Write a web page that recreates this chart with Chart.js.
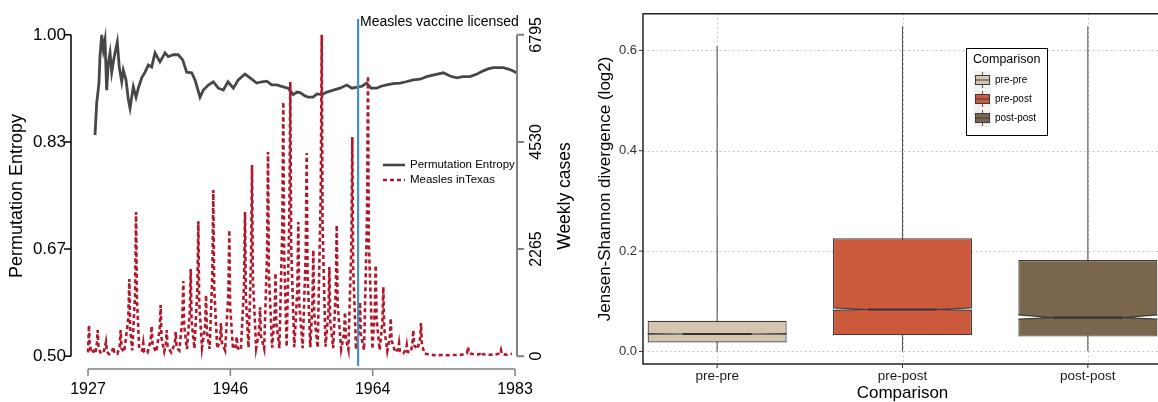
<!DOCTYPE html>
<html lang="en">
  <head>
    <meta charset="UTF-8" />
    <title>Measles in Texas: permutation entropy and Jensen-Shannon divergence</title>
    <script src="https://cdn.jsdelivr.net/npm/chart.js"></script>
    <style>
      html,
      body {
        margin: 0;
        padding: 0;
        background: #fff;
        overflow: hidden;
      }
      body {
        width: 1158px;
        height: 402px;
        position: relative;
      }
      #left {
        position: absolute;
        left: 0;
        top: 0;
        width: 580px;
        height: 402px;
      }
      #right {
        position: absolute;
        left: 580px;
        top: 0;
        width: 600px;
        height: 402px;
      }
    </style>
  </head>
  <body>
    <div id="left"><canvas id="entropyChart"></canvas></div>
    <div id="right"><canvas id="jsdChart"></canvas></div>

    <script>
      // ---- left panel: entropy vs weekly measles cases ----
      const entropySeries = [
        [1927.92, 0.844], [1928.14, 0.894], [1928.44, 0.925], [1928.57, 0.966], [1928.8, 1.0],
        [1929.01, 0.977], [1929.23, 0.992], [1929.45, 0.914], [1929.66, 0.956], [1929.89, 0.972],
        [1930.11, 0.942], [1930.41, 0.964], [1930.84, 0.989], [1931.1, 0.95], [1931.42, 0.927],
        [1931.63, 0.945], [1931.98, 0.93], [1932.29, 0.899], [1932.51, 0.886], [1932.73, 0.903],
        [1932.94, 0.919], [1933.3, 0.903], [1933.6, 0.917], [1934.04, 0.933], [1934.48, 0.942],
        [1934.91, 0.953], [1935.35, 0.95], [1935.79, 0.972], [1936.44, 0.958], [1937.1, 0.972],
        [1937.53, 0.966], [1938.19, 0.969], [1938.84, 0.969], [1939.42, 0.961], [1939.94, 0.942],
        [1940.6, 0.941], [1941.03, 0.93], [1941.69, 0.903], [1942.12, 0.914], [1942.78, 0.922],
        [1943.43, 0.927], [1944.09, 0.917], [1944.74, 0.914], [1945.36, 0.927], [1946.06, 0.917],
        [1946.71, 0.93], [1947.59, 0.939], [1948.25, 0.933], [1949.12, 0.925], [1949.82, 0.927],
        [1950.44, 0.928], [1951.09, 0.922], [1951.75, 0.922], [1952.61, 0.919], [1953.23, 0.917],
        [1953.92, 0.907], [1954.41, 0.911], [1954.8, 0.91], [1955.46, 0.905], [1955.89, 0.903],
        [1956.51, 0.903], [1957.03, 0.908], [1957.65, 0.907], [1958.34, 0.911], [1959.17, 0.914],
        [1960.05, 0.917], [1960.93, 0.922], [1961.62, 0.917], [1962.45, 0.919], [1962.93, 0.92],
        [1963.55, 0.925], [1964.11, 0.917], [1964.86, 0.917], [1965.43, 0.92], [1966.17, 0.922],
        [1967.0, 0.924], [1967.92, 0.925], [1968.7, 0.927], [1969.66, 0.93], [1970.54, 0.931],
        [1971.42, 0.935], [1972.51, 0.938], [1973.6, 0.941], [1974.48, 0.936], [1975.35, 0.933],
        [1976.18, 0.935], [1977.1, 0.935], [1978.02, 0.939], [1978.84, 0.944], [1979.46, 0.947],
        [1980.15, 0.949], [1980.77, 0.949], [1981.47, 0.949], [1982.34, 0.946], [1983.22, 0.941]
      ];

      const measlesSeries = [
        [1927.0, 80], [1927.07, 380], [1927.13, 656], [1927.22, 240], [1927.45, 70], [1927.72, 110], [1927.95, 50],
        [1928.17, 280], [1928.27, 550], [1928.38, 180], [1928.7, 50],
        [1929.1, 110], [1929.36, 303], [1929.48, 90], [1929.8, 40],
        [1930.15, 90], [1930.32, 197], [1930.45, 70], [1930.85, 50],
        [1931.15, 200], [1931.28, 550], [1931.4, 160], [1931.75, 90],
        [1932.28, 800], [1932.42, 1630], [1932.52, 600], [1932.8, 120],
        [1933.17, 1300], [1933.3, 3048], [1933.42, 1200], [1933.72, 150],
        [1934.12, 120], [1934.25, 275], [1934.38, 90], [1934.8, 70],
        [1935.22, 330], [1935.35, 635], [1935.47, 230], [1935.95, 90],
        [1936.4, 560], [1936.53, 1080], [1936.64, 380], [1937.0, 100],
        [1937.22, 260], [1937.32, 550], [1937.44, 200], [1937.9, 80],
        [1938.38, 260], [1938.5, 515], [1938.62, 180], [1938.98, 120],
        [1939.37, 780], [1939.5, 1590], [1939.61, 650], [1939.98, 150],
        [1940.35, 950], [1940.47, 1842], [1940.58, 760], [1940.95, 160],
        [1941.34, 1400], [1941.47, 2850], [1941.58, 1150], [1941.95, 180],
        [1942.36, 650], [1942.48, 1291], [1942.6, 500], [1942.95, 150],
        [1943.3, 1700], [1943.43, 3514], [1943.55, 1450], [1943.95, 160],
        [1944.32, 360], [1944.44, 699], [1944.56, 280], [1944.98, 120],
        [1945.4, 1300], [1945.53, 2667], [1945.64, 1050], [1946.02, 150],
        [1946.38, 220], [1946.5, 410], [1946.62, 170], [1947.05, 130],
        [1947.46, 1500], [1947.59, 3048], [1947.7, 1250], [1948.05, 180],
        [1948.38, 2000], [1948.51, 4043], [1948.62, 1650], [1949.05, 170],
        [1949.44, 520], [1949.56, 1037], [1949.68, 420], [1950.1, 160],
        [1950.48, 2150], [1950.61, 4318], [1950.72, 1750], [1951.15, 180],
        [1951.47, 880], [1951.59, 1757], [1951.7, 700], [1952.1, 170],
        [1952.48, 2700], [1952.61, 5377], [1952.72, 2200], [1953.05, 200],
        [1953.4, 2900], [1953.53, 5800], [1953.64, 2350], [1954.05, 190],
        [1954.45, 1400], [1954.58, 2837], [1954.69, 1150], [1955.15, 170],
        [1955.55, 2150], [1955.68, 4297], [1955.79, 1750], [1956.15, 190],
        [1956.43, 1100], [1956.55, 2244], [1956.66, 900], [1957.12, 180],
        [1957.52, 3400], [1957.65, 6795], [1957.76, 2800], [1958.15, 200],
        [1958.53, 950], [1958.65, 1884], [1958.76, 760], [1959.15, 170],
        [1959.5, 1400], [1959.62, 2773], [1959.73, 1120], [1960.2, 150],
        [1960.58, 470], [1960.7, 931], [1960.82, 380], [1961.15, 140],
        [1961.53, 2300], [1961.66, 4636], [1961.77, 1900], [1962.15, 140],
        [1962.55, 580], [1962.67, 1143], [1962.78, 460], [1963.2, 130],
        [1963.59, 2950], [1963.72, 5927], [1963.83, 2400], [1964.3, 150],
        [1964.61, 970], [1964.73, 1926], [1964.85, 780], [1965.25, 130],
        [1965.61, 740], [1965.73, 1461], [1965.84, 590], [1966.25, 110],
        [1966.58, 410], [1966.7, 804], [1966.82, 330], [1967.3, 80],
        [1967.68, 150], [1967.79, 275], [1967.9, 110], [1968.35, 60],
        [1968.69, 130], [1968.8, 233], [1968.91, 90], [1969.35, 90],
        [1969.55, 290], [1969.66, 550], [1969.77, 230], [1970.2, 150],
        [1970.56, 380], [1970.67, 699], [1970.78, 260], [1971.1, 60],
        [1971.8, 30], [1972.6, 20], [1973.4, 25], [1974.3, 20], [1975.2, 25], [1976.0, 30],
        [1976.7, 60], [1976.84, 190], [1976.95, 60], [1977.6, 40], [1978.2, 35],
        [1978.6, 60], [1978.67, 85], [1978.8, 40], [1979.6, 30], [1980.4, 35],
        [1981.05, 60], [1981.16, 127], [1981.28, 40], [1982.0, 30], [1982.6, 50]
      ];

      const yearTickValues = [1927, 1945.667, 1964.333, 1983];
      const yearTickLabels = ['1927', '1946', '1964', '1983'];
      const entropyTickValues = [0.5, 0.6667, 0.8333, 1.0];
      const entropyTickLabels = ['0.50', '0.67', '0.83', '1.00'];
      const caseTickValues = [0, 2265, 4530, 6795];
      const vaccineYear = 1962.42;
      const vaccineLabel = 'Measles vaccine licensed';

      // ---- right panel: JSD boxplots ----
      const compCategories = ['pre-pre', 'pre-post', 'post-post'];
      const boxMin = [0, 0, 0];
      const boxQ1 = [0.018, 0.0322, 0.0295];
      const boxNotchLow = [0.0338, 0.0816, 0.0642];
      const boxMedian = [0.0347, 0.0835, 0.0675];
      const boxNotchHigh = [0.0356, 0.0868, 0.0727];
      const boxQ3 = [0.0611, 0.2257, 0.182];
      const boxMax = [0.609, 0.648, 0.648];
      const jsdTickValues = [0, 0.2, 0.4, 0.6];

      const FONT = "'Liberation Sans', Arial, Helvetica, sans-serif";
      const boxColors = ['#d4c5b1', '#cb5a3c', '#79674d'];

      Chart.defaults.font.family = FONT;
      Chart.defaults.color = '#000';

      function rotatedText(ctx, text, x, y, font, color) {
        ctx.save();
        ctx.translate(x, y);
        ctx.rotate(-Math.PI / 2);
        ctx.font = font;
        ctx.fillStyle = color;
        ctx.textAlign = 'center';
        ctx.textBaseline = 'middle';
        ctx.fillText(text, 0, 0);
        ctx.restore();
      }

      const leftDecor = {
        id: 'leftDecor',
        afterDatasetsDraw(chart) {
          const { ctx, chartArea: a, scales } = chart;
          const vx = scales.x.getPixelForValue(vaccineYear);
          ctx.save();
          ctx.strokeStyle = '#4393c3';
          ctx.lineWidth = 2.2;
          ctx.beginPath();
          ctx.moveTo(vx, a.top - 3);
          ctx.lineTo(vx, a.bottom - 3);
          ctx.stroke();
          ctx.fillStyle = '#000';
          ctx.font = '14px ' + FONT;
          ctx.textBaseline = 'alphabetic';
          ctx.fillText(vaccineLabel, vx + 2, 26);
          ctx.restore();
        },
        afterDraw(chart) {
          const { ctx, chartArea: a } = chart;
          const { x, entropy, cases } = chart.scales;
          ctx.save();
          ctx.lineWidth = 1.5;

          // bottom axis, R style (first to last tick)
          ctx.strokeStyle = '#808080';
          ctx.beginPath();
          ctx.moveTo(x.getPixelForValue(yearTickValues[0]), a.bottom);
          ctx.lineTo(x.getPixelForValue(yearTickValues[yearTickValues.length - 1]), a.bottom);
          yearTickValues.forEach((v) => {
            const p = x.getPixelForValue(v);
            ctx.moveTo(p, a.bottom);
            ctx.lineTo(p, a.bottom + 7);
          });
          ctx.stroke();

          // left axis
          ctx.strokeStyle = '#000';
          ctx.beginPath();
          ctx.moveTo(a.left, entropy.getPixelForValue(entropyTickValues[0]));
          ctx.lineTo(a.left, entropy.getPixelForValue(entropyTickValues[entropyTickValues.length - 1]));
          entropyTickValues.forEach((v) => {
            const p = entropy.getPixelForValue(v);
            ctx.moveTo(a.left, p);
            ctx.lineTo(a.left - 7, p);
          });
          ctx.stroke();

          // right axis
          ctx.strokeStyle = '#808080';
          ctx.lineWidth = 2;
          ctx.beginPath();
          ctx.moveTo(a.right, cases.getPixelForValue(caseTickValues[0]));
          ctx.lineTo(a.right, cases.getPixelForValue(caseTickValues[caseTickValues.length - 1]));
          caseTickValues.forEach((v) => {
            const p = cases.getPixelForValue(v);
            ctx.moveTo(a.right, p);
            ctx.lineTo(a.right + 7, p);
          });
          ctx.stroke();
          caseTickValues.forEach((v) => {
            rotatedText(ctx, String(v), a.right + 20, cases.getPixelForValue(v), '16px ' + FONT, '#000');
          });

          // axis titles
          rotatedText(ctx, 'Permutation Entropy', 17, 196, '18px ' + FONT, '#000');
          rotatedText(ctx, 'Weekly cases', 565, 196, '17.5px ' + FONT, '#000');

          // legend
          ctx.lineWidth = 2.6;
          ctx.strokeStyle = '#474747';
          ctx.beginPath();
          ctx.moveTo(383, 165);
          ctx.lineTo(405, 165);
          ctx.stroke();
          ctx.strokeStyle = '#b2182b';
          ctx.setLineDash([4, 3]);
          ctx.beginPath();
          ctx.moveTo(383, 180);
          ctx.lineTo(405, 180);
          ctx.stroke();
          ctx.setLineDash([]);
          ctx.fillStyle = '#000';
          ctx.font = '11.5px ' + FONT;
          ctx.textBaseline = 'middle';
          ctx.fillText('Permutation Entropy', 410, 165);
          ctx.fillText('Measles inTexas', 410, 180);
          ctx.restore();
        }
      };

      new Chart(document.getElementById('entropyChart'), {
        type: 'line',
        data: {
          datasets: [
            {
              label: 'Measles inTexas',
              data: measlesSeries.map(([x, y]) => ({ x, y })),
              yAxisID: 'cases',
              borderColor: '#b2182b',
              borderWidth: 2.6,
              borderDash: [4, 3],
              pointRadius: 0,
              tension: 0,
              order: 0
            },
            {
              label: 'Permutation Entropy',
              data: entropySeries.map(([x, y]) => ({ x, y })),
              yAxisID: 'entropy',
              borderColor: '#474747',
              borderWidth: 2.8,
              pointRadius: 0,
              tension: 0,
              order: 1
            }
          ]
        },
        options: {
          responsive: true,
          maintainAspectRatio: false,
          animation: false,
          events: [],
          layout: { padding: { top: 22, left: 0, right: 0, bottom: 0 } },
          plugins: { legend: { display: false }, tooltip: { enabled: false } },
          scales: {
            x: {
              type: 'linear',
              min: 1924.77,
              max: 1983.26,
              grid: { display: false, drawTicks: false },
              border: { display: false },
              afterBuildTicks: (s) => {
                s.ticks = yearTickValues.map((v) => ({ value: v }));
              },
              afterFit: (s) => {
                s.height = 33;
              },
              ticks: {
                autoSkip: false,
                maxRotation: 0,
                padding: 11,
                font: { size: 16 },
                color: '#000',
                callback: (v, i) => yearTickLabels[i]
              }
            },
            entropy: {
              type: 'linear',
              position: 'left',
              min: 0.48,
              max: 1.02,
              grid: { display: false, drawTicks: false },
              border: { display: false },
              afterBuildTicks: (s) => {
                s.ticks = entropyTickValues.map((v) => ({ value: v }));
              },
              afterFit: (s) => {
                s.width = 71;
              },
              ticks: {
                padding: 5,
                font: { size: 17 },
                color: '#000',
                callback: (v, i) => entropyTickLabels[i]
              }
            },
            cases: {
              type: 'linear',
              position: 'right',
              min: -271.8,
              max: 7066.8,
              grid: { display: false, drawTicks: false },
              border: { display: false },
              ticks: { display: false },
              afterFit: (s) => {
                s.width = 63;
              }
            }
          }
        },
        plugins: [leftDecor]
      });

      // ---- right panel ----
      const rightDecor = {
        id: 'rightDecor',
        beforeDatasetsDraw(chart) {
          const { ctx, chartArea: a } = chart;
          const { x, y } = chart.scales;
          ctx.save();
          // dotted major grid
          ctx.strokeStyle = '#bdbdbd';
          ctx.lineWidth = 1;
          ctx.setLineDash([1.5, 3]);
          ctx.beginPath();
          jsdTickValues.forEach((v) => {
            const p = Math.round(y.getPixelForValue(v)) + 0.5;
            ctx.moveTo(a.left, p);
            ctx.lineTo(a.right, p);
          });
          compCategories.forEach((c, i) => {
            const p = Math.round(x.getPixelForValue(i + 1)) + 0.5;
            ctx.moveTo(p, a.top);
            ctx.lineTo(p, a.bottom);
          });
          ctx.stroke();
          ctx.setLineDash([]);
          // whiskers
          ctx.strokeStyle = '#555';
          ctx.lineWidth = 1.1;
          ctx.beginPath();
          compCategories.forEach((c, i) => {
            const p = x.getPixelForValue(i + 1);
            ctx.moveTo(p, y.getPixelForValue(boxMin[i]));
            ctx.lineTo(p, y.getPixelForValue(boxMax[i]));
          });
          ctx.stroke();
          ctx.restore();
        },
        afterDatasetsDraw(chart) {
          const { ctx } = chart;
          const { x, y } = chart.scales;
          ctx.save();
          compCategories.forEach((c, i) => {
            const l = x.getPixelForValue(i + 1 - 0.375);
            const r = x.getPixelForValue(i + 1 + 0.375);
            const nl = x.getPixelForValue(i + 1 - 0.1875);
            const nr = x.getPixelForValue(i + 1 + 0.1875);
            const hi = y.getPixelForValue(boxNotchHigh[i]);
            const lo = y.getPixelForValue(boxNotchLow[i]);
            const md = y.getPixelForValue(boxMedian[i]);
            // notch cut-outs
            ctx.fillStyle = '#fff';
            ctx.beginPath();
            ctx.moveTo(l - 1, hi);
            ctx.lineTo(nl, md);
            ctx.lineTo(l - 1, lo);
            ctx.closePath();
            ctx.moveTo(r + 1, hi);
            ctx.lineTo(nr, md);
            ctx.lineTo(r + 1, lo);
            ctx.closePath();
            ctx.fill();
            ctx.strokeStyle = '#3d3d3d';
            ctx.lineWidth = 1.2;
            ctx.beginPath();
            ctx.moveTo(l, hi);
            ctx.lineTo(nl, md);
            ctx.lineTo(l, lo);
            ctx.moveTo(r, hi);
            ctx.lineTo(nr, md);
            ctx.lineTo(r, lo);
            ctx.stroke();
            // median
            ctx.strokeStyle = '#333';
            ctx.lineWidth = 2.2;
            ctx.beginPath();
            ctx.moveTo(nl, md);
            ctx.lineTo(nr, md);
            ctx.stroke();
          });
          ctx.restore();
        },
        afterDraw(chart) {
          const { ctx, chartArea: a } = chart;
          const { x, y } = chart.scales;
          ctx.save();
          // panel border
          ctx.strokeStyle = '#000';
          ctx.lineWidth = 1.3;
          ctx.strokeRect(a.left, a.top, a.right - a.left, a.bottom - a.top);
          // tick marks
          ctx.strokeStyle = '#333';
          ctx.lineWidth = 1;
          ctx.beginPath();
          jsdTickValues.forEach((v) => {
            const p = y.getPixelForValue(v);
            ctx.moveTo(a.left - 4, p);
            ctx.lineTo(a.left, p);
          });
          compCategories.forEach((c, i) => {
            const p = x.getPixelForValue(i + 1);
            ctx.moveTo(p, a.bottom);
            ctx.lineTo(p, a.bottom + 4);
          });
          ctx.stroke();
          // titles
          rotatedText(ctx, 'Jensen-Shannon divergence (log2)', 25, (a.top + a.bottom) / 2, '17px ' + FONT, '#000');
          ctx.fillStyle = '#000';
          ctx.font = '17px ' + FONT;
          ctx.textAlign = 'center';
          ctx.textBaseline = 'middle';
          ctx.fillText('Comparison', x.getPixelForValue(2), 393);

          // legend
          const lx = 386, ly = 48;
          ctx.fillStyle = '#fff';
          ctx.fillRect(lx, ly, 81, 87);
          ctx.strokeStyle = '#000';
          ctx.lineWidth = 1;
          ctx.strokeRect(lx + 0.5, ly + 0.5, 81, 87);
          ctx.fillStyle = '#000';
          ctx.font = '12.5px ' + FONT;
          ctx.textAlign = 'left';
          ctx.fillText('Comparison', lx + 7, ly + 12);
          ctx.font = '10px ' + FONT;
          compCategories.forEach((c, i) => {
            const cy = ly + 32 + i * 19;
            const kx = lx + 8;
            ctx.fillStyle = '#f0f0f0';
            ctx.fillRect(kx, cy - 9, 17, 18);
            ctx.strokeStyle = '#555';
            ctx.lineWidth = 1;
            ctx.beginPath();
            ctx.moveTo(kx + 8.5, cy - 8);
            ctx.lineTo(kx + 8.5, cy + 8);
            ctx.stroke();
            ctx.fillStyle = boxColors[i];
            ctx.fillRect(kx + 1, cy - 5, 15, 10);
            ctx.strokeStyle = '#3d3d3d';
            ctx.strokeRect(kx + 1.5, cy - 4.5, 14, 9);
            ctx.beginPath();
            ctx.moveTo(kx + 1.5, cy);
            ctx.lineTo(kx + 15.5, cy);
            ctx.stroke();
            ctx.fillStyle = '#000';
            ctx.fillText(c, kx + 21, cy);
          });
          ctx.restore();
        }
      };

      new Chart(document.getElementById('jsdChart'), {
        type: 'bar',
        data: {
          datasets: [
            {
              label: 'Comparison',
              data: compCategories.map((c, i) => ({ x: i + 1, y: [boxQ1[i], boxQ3[i]] })),
              backgroundColor: boxColors,
              borderColor: '#3d3d3d',
              borderWidth: 1.2,
              borderSkipped: false,
              categoryPercentage: 1,
              barPercentage: 0.75
            }
          ]
        },
        options: {
          responsive: true,
          maintainAspectRatio: false,
          animation: false,
          events: [],
          layout: { padding: { top: 2, left: 0, right: 18, bottom: 0 } },
          plugins: { legend: { display: false }, tooltip: { enabled: false } },
          scales: {
            x: {
              type: 'linear',
              offset: false,
              min: 0.6,
              max: 3.4,
              grid: { display: false, drawTicks: false, offset: false },
              border: { display: false },
              afterBuildTicks: (s) => {
                s.ticks = compCategories.map((c, i) => ({ value: i + 1 }));
              },
              afterFit: (s) => {
                s.height = 38;
              },
              ticks: {
                autoSkip: false,
                maxRotation: 0,
                padding: 4,
                font: { size: 13.5 },
                color: '#1a1a1a',
                callback: (v, i) => compCategories[i]
              }
            },
            y: {
              type: 'linear',
              min: -0.0251,
              max: 0.673,
              grid: { display: false, drawTicks: false },
              border: { display: false },
              afterBuildTicks: (s) => {
                s.ticks = jsdTickValues.map((v) => ({ value: v }));
              },
              afterFit: (s) => {
                s.width = 63;
              },
              ticks: {
                padding: 6,
                font: { size: 13 },
                color: '#333',
                callback: (v) => v.toFixed(1)
              }
            }
          }
        },
        plugins: [rightDecor]
      });
    </script>
  </body>
</html>
